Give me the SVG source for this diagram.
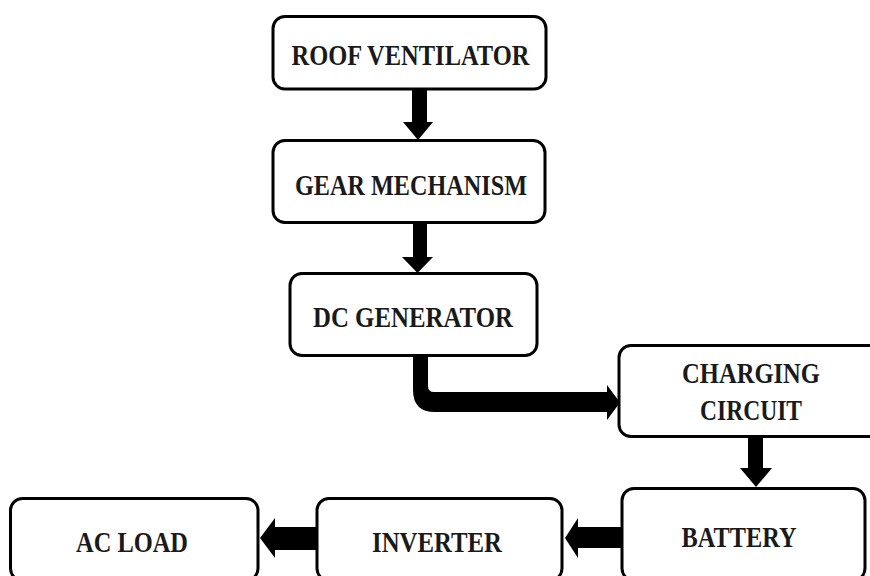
<svg xmlns="http://www.w3.org/2000/svg" width="870" height="576" viewBox="0 0 870 576">
<style>
.box{fill:#fff;stroke:#000;stroke-width:3}
.lbl{font-family:"Liberation Serif","Times New Roman",serif;font-weight:bold;font-size:30px;fill:#1a1a1a;text-anchor:middle}
.arrow{fill:#000;stroke:none}
</style>
<rect width="870" height="576" fill="#fff"/>
<g id="connectors">
<path class="arrow" d="M412,89 L427,89 L427,122 L433,122 L418,140 L403,122 L412,122 Z"/>
<path class="arrow" d="M413,223 L427,223 L427,257 L433,257 L417.5,273 L402,257 L413,257 Z"/>
<path class="arrow" d="M413,355 L413,390 Q413,412 435,412 L607,412 L607,420 L620,402.5 L607,385 L607,392 L434,392 Q428,392 428,386 L428,355 Z"/>
<path class="arrow" d="M748,437 L763,437 L763,468 L772,468 L756,487 L740,468 L748,468 Z"/>
<path class="arrow" d="M622,527 L622,548 L578,548 L578,558 L565,538 L578,518 L578,527 Z"/>
<path class="arrow" d="M317,527 L317,550 L275,550 L275,558 L260,538 L275,518 L275,527 Z"/>
</g>
<g id="roof-ventilator">
<rect class="box" x="273" y="16.5" width="273" height="72.5" rx="12"/>
<text class="lbl" x="410.5" y="65" textLength="238" lengthAdjust="spacingAndGlyphs">ROOF VENTILATOR</text>
</g>
<g id="gear-mechanism">
<rect class="box" x="273" y="140.5" width="272" height="82" rx="12"/>
<text class="lbl" x="411" y="195" textLength="232" lengthAdjust="spacingAndGlyphs">GEAR MECHANISM</text>
</g>
<g id="dc-generator">
<rect class="box" x="290" y="273.5" width="247" height="82" rx="12"/>
<text class="lbl" x="413" y="327" textLength="200" lengthAdjust="spacingAndGlyphs">DC GENERATOR</text>
</g>
<g id="charging-circuit">
<rect class="box" x="619" y="345.5" width="270" height="91" rx="12"/>
<text class="lbl" x="751" y="383" textLength="138" lengthAdjust="spacingAndGlyphs">CHARGING</text>
<text class="lbl" x="751" y="420" textLength="102" lengthAdjust="spacingAndGlyphs">CIRCUIT</text>
</g>
<g id="battery">
<rect class="box" x="622" y="488.5" width="243" height="92" rx="12"/>
<text class="lbl" x="739" y="547" textLength="115" lengthAdjust="spacingAndGlyphs">BATTERY</text>
</g>
<g id="inverter">
<rect class="box" x="317" y="498.5" width="245" height="82" rx="12"/>
<text class="lbl" x="437" y="552" textLength="130" lengthAdjust="spacingAndGlyphs">INVERTER</text>
</g>
<g id="ac-load">
<rect class="box" x="10.5" y="498.5" width="247.5" height="82" rx="12"/>
<text class="lbl" x="132" y="552" textLength="112" lengthAdjust="spacingAndGlyphs">AC LOAD</text>
</g>
</svg>
